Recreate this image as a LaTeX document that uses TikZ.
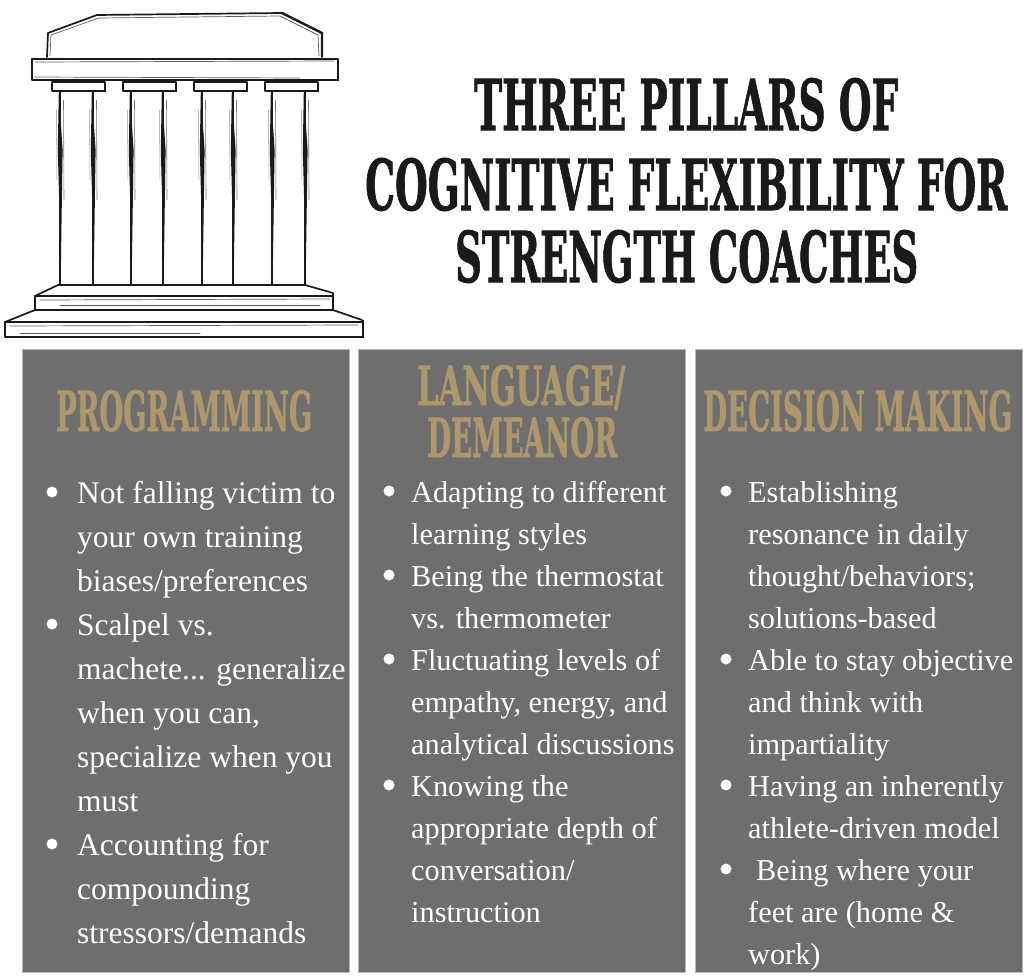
\documentclass[tikz,border=0pt]{standalone}
\usepackage{fontspec}
\usepackage{graphicx}
\setmainfont{Liberation Serif}
\newfontfamily\titlefont{DejaVu Serif}[BoldFeatures={FakeBold=1.5}]
\definecolor{panelgray}{HTML}{6E6E6E}
\definecolor{gold}{HTML}{AD976B}
\definecolor{ink}{HTML}{1A1A1A}
\newcommand\threedots{...}
\tikzset{
  panelbox/.style={fill=panelgray, draw=gray!55, line width=0.8pt, minimum width=327pt, minimum height=623pt, inner sep=0pt, outer sep=0pt, anchor=north west},
  hdr/.style={text=gold, font=\titlefont\bfseries, inner sep=0pt, anchor=base west},
  ttl/.style={text=ink, font=\titlefont\bfseries, inner sep=0pt, anchor=base west},
  txtA/.style={text=white, font=\fontsize{31.5}{40}\selectfont, inner sep=0pt, anchor=base west},
  txtB/.style={text=white, font=\fontsize{30.3}{40}\selectfont, inner sep=0pt, anchor=base west},
  bul/.style={circle, fill=white, minimum size=11pt, inner sep=0pt},
  sk/.style={draw=ink, line width=1.7pt, line cap=round, line join=round},
  sklight/.style={draw=ink!70, line width=0.7pt, line cap=round, line join=round},
}
\begin{document}
\begin{tikzpicture}[x=1pt,y=-1pt]
\useasboundingbox (0,0) rectangle (1030,979);
\fill[white] (0,0) rectangle (1030,979);

% ---------- pillar drawing ----------
\draw[sk] (47,57) -- (48,33) -- (97,15) -- (282,13) -- (322,33) -- (322,57);
\draw[sklight] (50,56) -- (51,35) -- (99,18) -- (280,16) -- (318,35) -- (319,56);
\draw[draw=ink, line width=2.4pt] (282,13) -- (322,33) -- (322,57);
\draw[sk] (32,59) rectangle (338,80);
\draw[draw=ink, line width=2.8pt] (338,60) -- (338,80) -- (60,80);
\draw[sklight] (35,62) -- (334,61);
\draw[sklight] (34,77) -- (300,78);
\foreach \cx in {52,123,194,265}{
  \draw[sk, line width=1.3pt] (\cx,82) rectangle (\cx+53,91);
  \draw[draw=ink, line width=2.2pt] (\cx+53,82) -- (\cx+53,91) -- (\cx+5,91);
}
\foreach \ex in {60,93,131,163,202,233,272,305}{
  \fill[ink] (\ex-1.2,92) -- (\ex+2.6,150) -- (\ex+0.9,265) -- (\ex-2.2,150) -- cycle;
  \draw[draw=ink, line width=1.1pt] (\ex,92) -- (\ex,285);
  \draw[draw=ink!60, line width=0.6pt] (\ex+3.5,100) -- (\ex+4,200);
  \draw[draw=ink!45, line width=0.5pt] (\ex-3.5,110) -- (\ex-3,180);
}
% base steps
\draw[sk] (35,296) -- (58,285) -- (305,285) -- (333,293);
\draw[draw=ink, line width=2.4pt] (58,285) -- (305,285);
\draw[sk] (35,296) rectangle (333,310);
\draw[draw=ink, line width=2.8pt] (333,293) -- (333,310) -- (90,310);
\draw[sklight] (40,300) -- (330,299);
\draw[sklight] (60,305) -- (320,305);
\draw[sk] (5,322) -- (35,310);
\draw[sk] (333,310) -- (362,320);
\draw[sk] (5,322) rectangle (363,337);
\draw[draw=ink, line width=2.8pt] (363,320) -- (363,337) -- (260,337);
\draw[sklight] (10,326) -- (358,325);
\draw[sklight] (20,333) -- (200,333);

% ---------- title ----------
\node[ttl] (t1) at (474,130) {\resizebox{424pt}{52pt}{THREE PILLARS OF}};
\node[ttl] (t2) at (365,210) {\resizebox{642pt}{52pt}{COGNITIVE FLEXIBILITY FOR}};
\node[ttl] (t3) at (455,282) {\resizebox{463pt}{52pt}{STRENGTH COACHES}};

% ---------- panels ----------
\node[panelbox] (p1) at (22,349) {};
\node[panelbox] (p2) at (358,349) {};
\node[panelbox] (p3) at (695,349) {};

\node[hdr] (h1) at (56,431) {\resizebox{256pt}{41pt}{PROGRAMMING}};
\node[hdr] (h2a) at (417,405) {\resizebox{208pt}{40pt}{LANGUAGE\smash{/}}};
\node[hdr] (h2b) at (427,457) {\resizebox{190pt}{40pt}{DEMEANOR}};
\node[hdr] (h3) at (703,431) {\resizebox{309pt}{41pt}{DECISION MAKING}};

% panel 1 text
\foreach \t [count=\i from 0] in {Not falling victim to, your own training, biases/preferences, Scalpel vs., machete\threedots{} generalize, {when you can,}, specialize when you, must, Accounting for, compounding, stressors/demands}
  \node[txtA] (a\i) at (77,503+44*\i) {\t};
\foreach \i in {0,3,8}
  \node[bul] (ba\i) at (52,492+44*\i) {};

% panel 2 text
\foreach \t [count=\i from 0] in {Adapting to different, learning styles, Being the thermostat, vs. thermometer, Fluctuating levels of, {empathy, energy, and}, analytical discussions, Knowing the, appropriate depth of, conversation/, instruction}
  \node[txtB] (b\i) at (411,502+42*\i) {\t};
\foreach \i in {0,2,4,7}
  \node[bul] (bb\i) at (389,491+42*\i) {};

% panel 3 text
\foreach \t [count=\i from 0] in {Establishing, resonance in daily, thought/behaviors;, solutions-based, Able to stay objective, and think with, impartiality, Having an inherently, athlete-driven model, \hspace{8pt}Being where your, feet are (home \&, work)}
  \node[txtB] (c\i) at (748,502+42*\i) {\t};
\foreach \i in {0,4,7,9}
  \node[bul] (bc\i) at (726,491+42*\i) {};
\end{tikzpicture}
\end{document}
